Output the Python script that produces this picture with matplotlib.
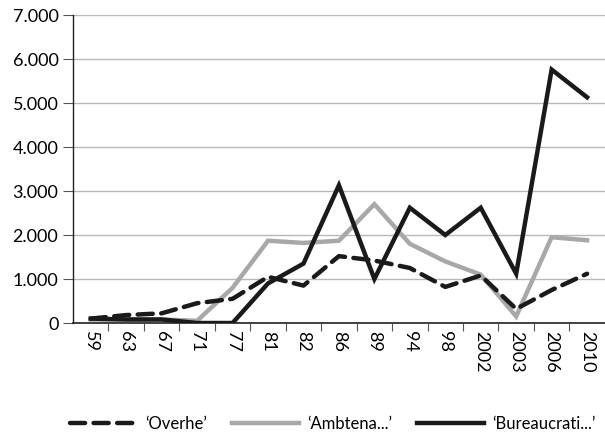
import matplotlib
matplotlib.use("Agg")
import matplotlib.pyplot as plt
from matplotlib.ticker import FixedLocator, FuncFormatter
import numpy as np

plt.rcParams['font.family'] = ['Lato', 'DejaVu Sans']

years = ["59", "63", "67", "71", "77", "81", "82", "86", "89", "94", "98", "2002", "2003", "2006", "2010"]
overhe = [100, 180, 220, 450, 550, 1050, 850, 1520, 1420, 1250, 820, 1080, 320, 750, 1120]
ambtena = [80, 80, 80, 50, 800, 1870, 1820, 1870, 2700, 1800, 1400, 1100, 150, 1950, 1880]
bureau = [100, 80, 80, 0, 0, 900, 1350, 3130, 1000, 2620, 2000, 2620, 1120, 5760, 5130]
labels = ["\u2018Overhe\u2019", "\u2018Ambtena...\u2019", "\u2018Bureaucrati...\u2019"]

fig = plt.figure(figsize=(6.05, 4.47), dpi=100)
ax = fig.add_axes([0.1207, 0.2774, 0.879, 0.689])

x = np.arange(len(years))
ax.plot(x, overhe, color="#1a1a1a", lw=3.2, dashes=(3.4, 1.9), dash_capstyle="round",
        label=labels[0], zorder=3)
ax.plot(x, ambtena, color="#a7a8aa", lw=3.2, label=labels[1], zorder=2, solid_joinstyle="miter")
ax.plot(x, bureau, color="#1a1a1a", lw=3.2, label=labels[2], zorder=4, solid_joinstyle="miter")

ax.set_xlim(-0.5, len(years) - 0.5)
ax.set_ylim(0, 7000)
ax.set_yticks(np.arange(0, 7001, 1000))
ax.yaxis.set_major_formatter(FuncFormatter(lambda v, p: f"{int(v):,}".replace(",", ".")))
ax.grid(axis="y", color="#b8b8b8", lw=1.0)
ax.set_axisbelow(True)

ax.set_xticks(x)
ax.set_xticklabels(years, rotation=270, fontsize=13)
ax.xaxis.set_minor_locator(FixedLocator(np.arange(0.5, len(years) - 0.5, 1)))
ax.tick_params(axis="x", which="major", length=0, pad=6)
ax.tick_params(axis="x", which="minor", length=6, width=0.8, color="#555555")
ax.tick_params(axis="y", length=7, width=0.8, color="#555555", labelsize=13)

for s in ["top", "right"]:
    ax.spines[s].set_visible(False)
ax.spines["left"].set_color("#222222")
ax.spines["bottom"].set_color("#222222")
ax.spines["left"].set_linewidth(1.0)
ax.spines["bottom"].set_linewidth(1.2)

fig.legend(loc="lower center", bbox_to_anchor=(0.55, 0.0), ncol=3, frameon=False,
           fontsize=12, handlelength=4.0, columnspacing=1.5, handletextpad=0.5)

fig.savefig("out.png", dpi=100)
